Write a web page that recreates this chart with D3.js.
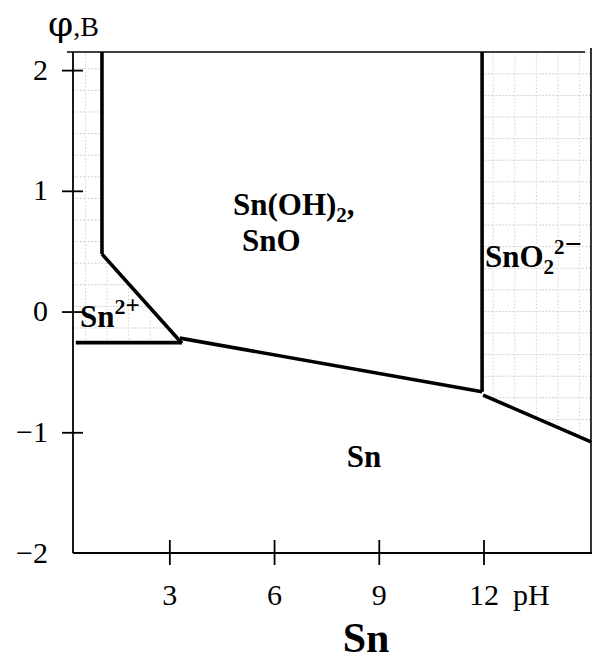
<!DOCTYPE html>
<html><head><meta charset="utf-8">
<script src="https://cdn.jsdelivr.net/npm/d3@7"></script>
<style>body{margin:0;background:#fff;}</style>
</head><body><svg id="c" width="598" height="660"></svg>
<script>
// Pourbaix diagram for tin: boundaries as [pH, φ] points
const xTicks = [3, 6, 9, 12];
const yTicks = [-2, -1, 0, 1, 2];
const lineSn2_SnOH = [[1.07, 2.15], [1.07, 0.476]];           // Sn2+ / Sn(OH)2 vertical
const lineSn2_diag = [[1.07, 0.476], [3.36, -0.262]];         // Sn2+ / Sn(OH)2 sloped
const lineSn2_Sn = [[0.32, -0.257], [3.36, -0.257]];          // Sn2+ / Sn
const lineSnOH_Sn = [[3.30, -0.220], [11.96, -0.664]];        // Sn(OH)2 / Sn
const lineSnOH_SnO2 = [[11.96, 2.15], [11.96, -0.664]];       // Sn(OH)2 / SnO2 2-
const lineSnO2_Sn = [[11.99, -0.692], [15.08, -1.08]];        // SnO2 2- / Sn
const hatchLeft = [[0.24, 2.15], [1.07, 2.15], [1.07, 0.476], [3.36, -0.257], [0.24, -0.257]];
const hatchRight = [[11.96, 2.15], [15.08, 2.15], [15.08, -1.08], [11.99, -0.692]];

const SERIF = "'Liberation Serif', 'Times New Roman', Times, serif";
const svg = d3.select("#c");
const x = d3.scaleLinear().domain([0.24, 15.08]).range([73, 591]);
const y = d3.scaleLinear().domain([-2, 2.15]).range([553, 52]);
const line = d3.line().x(d => x(d[0])).y(d => y(d[1]));

// hatch patterns (dotted grid)
const defs = svg.append("defs");
function pat(id, ox, oy) {
  const p = defs.append("pattern").attr("id", id).attr("patternUnits", "userSpaceOnUse")
    .attr("width", 21.6).attr("height", 21.6).attr("patternTransform", `translate(${ox},${oy})`);
  p.append("line").attr("x1", 0).attr("x2", 21.6).attr("y1", 0.5).attr("y2", 0.5)
    .attr("stroke", "#b4b4b4").attr("stroke-width", 1.2).attr("stroke-dasharray", "1.2 2.1");
  p.append("line").attr("x1", 0.5).attr("x2", 0.5).attr("y1", 0).attr("y2", 21.6)
    .attr("stroke", "#c4c4c4").attr("stroke-width", 1.1).attr("stroke-dasharray", "1.2 2.4");
}
pat("hl", 20.2, 3.5);
pat("hr", 17.5, 8.5);
svg.append("path").attr("d", line(hatchLeft) + "Z").attr("fill", "url(#hl)");
svg.append("path").attr("d", line(hatchRight) + "Z").attr("fill", "url(#hr)");

// frame
const [x0, x1] = x.range(), [yb, yt] = y.range();
svg.append("line").attr("x1", x0 - 6).attr("x2", x1 - 6).attr("y1", yt).attr("y2", yt).attr("stroke", "#000").attr("stroke-width", 1.6);
svg.append("line").attr("x1", x1).attr("x2", x1).attr("y1", yt - 4).attr("y2", yb).attr("stroke", "#000").attr("stroke-width", 1.6);

// axes
const gx = svg.append("g").attr("transform", `translate(0,${yb})`)
  .call(d3.axisBottom(x).tickValues(xTicks).tickSize(12).tickPadding(19).tickFormat(d3.format("d")));
gx.select(".domain").attr("d", `M${x0},0H${x1 + 1}`).attr("stroke-width", 1.8);
gx.selectAll(".tick line").attr("y1", -13).attr("stroke-width", 1.8);

const gy = svg.append("g").attr("transform", `translate(${x0},0)`)
  .call(d3.axisLeft(y).tickValues(yTicks).tickSize(11).tickPadding(14).tickFormat(d3.format("d")));
gy.select(".domain").attr("d", `M0,${yt}V${yb}`).attr("stroke-width", 1.8);
gy.selectAll(".tick line").attr("x2", d => d === -2 ? 0 : -11).attr("x1", d => d === -2 ? 0 : 10).attr("stroke-width", 1.8);
gy.selectAll(".tick text").attr("dy", "0.3em");
svg.selectAll(".tick text").style("font-family", SERIF).style("font-size", "30px").attr("fill", "#000");
svg.selectAll(".domain, .tick line").attr("stroke", "#000");

// axis titles
const yl = svg.append("text").attr("x", 48).attr("y", 36).style("font-family", SERIF);
yl.append("tspan").style("font-size", "36px").style("font-family", "'DejaVu Serif', serif").text("φ");
yl.append("tspan").style("font-size", "28px").text(",B");
svg.append("text").attr("x", 513).attr("y", 605).style("font-family", SERIF).style("font-size", "30px").text("pH");

// boundaries
[lineSn2_SnOH, lineSn2_diag, lineSn2_Sn, lineSnOH_Sn, lineSnOH_SnO2, lineSnO2_Sn].forEach(l => {
  svg.append("path").attr("d", line(l)).attr("fill", "none").attr("stroke", "#000").attr("stroke-width", 3.6);
});

svg.append("text").attr("x", 366).attr("y", 652).attr("text-anchor", "middle")
  .style("font-family", SERIF).style("font-weight", "700").style("font-size", "42px").text("Sn");

// region labels
function lbl(px, py, parts) {
  const t = svg.append("text").attr("x", px).attr("y", py)
    .style("font-family", SERIF).style("font-weight", "700").style("font-size", "31px");
  parts.forEach(p => {
    const s = t.append("tspan").text(p.t);
    if (p.size) s.style("font-size", p.size + "px");
    if (p.dy) s.attr("dy", p.dy);
  });
  return t;
}
lbl(233, 215, [{t: "Sn(OH)"}, {t: "2", size: 21, dy: 7}, {t: ",", dy: -7}]);
lbl(242, 251, [{t: "SnO"}]);
lbl(485, 267, [{t: "SnO"}, {t: "2", size: 21, dy: 7}, {t: "2", size: 21, dy: -20}, {t: "−", size: 30}]);
lbl(80, 327, [{t: "Sn"}, {t: "2", size: 22, dy: -13}, {t: "+", size: 25}]);
lbl(364, 467, [{t: "Sn"}]).attr("text-anchor", "middle");
</script></body></html>
